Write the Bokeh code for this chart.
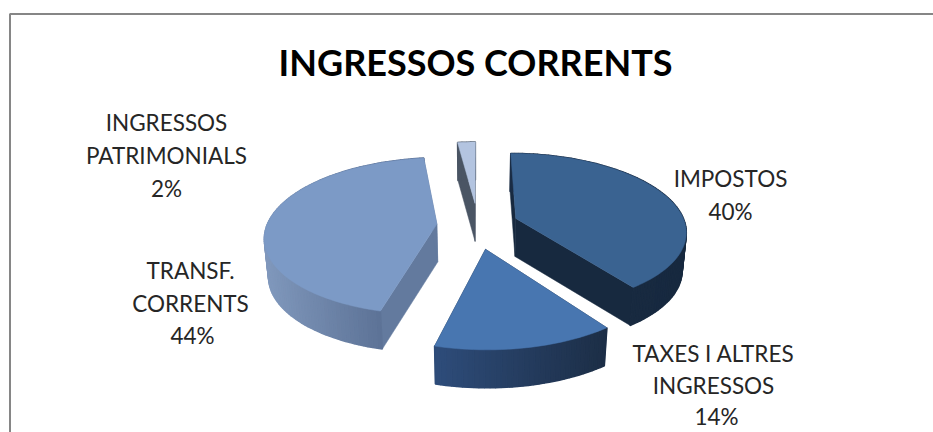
import math
from bokeh.plotting import figure
from bokeh.models import Range1d
from bokeh.embed import file_html
from bokeh.resources import INLINE
from bokeh.core.properties import value

# ---- data ----
categories = ["IMPOSTOS", "TAXES I ALTRES INGRESSOS", "TRANSF. CORRENTS", "INGRESSOS PATRIMONIALS"]
shares = [40, 14, 44, 2]
title_text = "INGRESSOS CORRENTS"

top_colors = ["#3A6391", "#4876B0", "#7C9AC6", "#B3C4E0"]
wall_left = ["#1A2C44", "#2E4C7A", "#8098BC", "#4A5564"]
wall_right = ["#17293F", "#1C2E46", "#4F6488", "#4A5564"]
cut_colors = ["#17293F", "#1C2E46", "#637A9E", "#4A5564"]

# ---- geometry of the projected pie (page pixels) ----
CX, CY = 477, 225
A, B, K = 170, 77, 0.153
EX, EY = 0.24, 0.30
DEPTH = 38
BOTTOM_SCALE = 0.98


def project(wx, wy, bottom=False):
    s = 1 + K * wy
    x = A * wx / s
    y = -B * wy / s
    if bottom:
        return CX + x * BOTTOM_SCALE, CY + y + DEPTH
    return CX + x, CY + y


def hex2rgb(h):
    return tuple(int(h[i:i + 2], 16) for i in (1, 3, 5))


def mix(c1, c2, f):
    a, b = hex2rgb(c1), hex2rgb(c2)
    return "#%02x%02x%02x" % tuple(round(a[i] + (b[i] - a[i]) * f) for i in range(3))


p = figure(width=933, height=432, output_backend="svg", toolbar_location=None,
           x_range=Range1d(0, 933), y_range=Range1d(432, 0),
           min_border=0, outline_line_color=None)
p.xaxis.visible = False
p.yaxis.visible = False
p.grid.visible = False

# chart frame
p.line([9.5, 9.5, 933], [432, 13.5, 13.5], line_color="#868686", line_width=2)

total = sum(shares)
start = 0.0
for i, v in enumerate(shares):
    t0 = start
    t1 = start + v / total * 360
    start = t1
    tm = math.radians((t0 + t1) / 2)
    ox, oy = EX * math.sin(tm), EY * math.cos(tm)
    n = max(3, int((t1 - t0) / 1.5))
    ts = [math.radians(t0 + (t1 - t0) * j / n) for j in range(n + 1)]
    rim = [(ox + math.sin(t), oy + math.cos(t)) for t in ts]

    # radial cut faces
    for w in (rim[0], rim[-1]):
        pts = [project(ox, oy), project(*w), project(*w, bottom=True), project(ox, oy, bottom=True)]
        p.patch([q[0] for q in pts], [q[1] for q in pts], fill_color=cut_colors[i], line_color=cut_colors[i], line_width=0.5)

    # outer wall, strip by strip so that it shades from left to right
    xs_all = [project(*w)[0] for w in rim]
    xmin, xmax = min(xs_all), max(xs_all)
    for j in range(n):
        a, b = rim[j], rim[j + 1]
        pts = [project(*a), project(*b), project(*b, bottom=True), project(*a, bottom=True)]
        f = ((pts[0][0] + pts[1][0]) / 2 - xmin) / max(xmax - xmin, 1)
        c = mix(wall_left[i], wall_right[i], f)
        p.patch([q[0] for q in pts], [q[1] for q in pts], fill_color=c, line_color=c, line_width=1.5)

    # top face
    pts = [project(ox, oy)] + [project(*w) for w in rim]
    p.patch([q[0] for q in pts], [q[1] for q in pts], fill_color=top_colors[i], line_color=top_colors[i], line_width=0.5)

# title
p.text([475], [61], text=[title_text], text_align="center", text_baseline="middle",
       text_font=value("Lato"), text_font_style="bold", text_font_size="36px", text_color="#000000")

# labels: one line per entry, value taken from shares
label_lines = [
    (["IMPOSTOS", f"{shares[0]}%"], [730, 730], [178, 211]),
    (["TAXES I ALTRES", "INGRESSOS", f"{shares[1]}%"], [713, 713, 716], [353, 385, 416]),
    (["TRANSF.", "CORRENTS", f"{shares[2]}%"], [190, 190, 192], [270, 303, 335]),
    (["INGRESSOS", "PATRIMONIALS", f"{shares[3]}%"], [166, 166, 166], [122, 155, 188]),
]
for texts, xs, ys in label_lines:
    p.text(xs, ys, text=texts, text_align="center", text_baseline="middle",
           text_font=value("Lato"), text_font_size="22.5px", text_color="#262626")

open("out.html", "w").write(file_html(p, INLINE))
